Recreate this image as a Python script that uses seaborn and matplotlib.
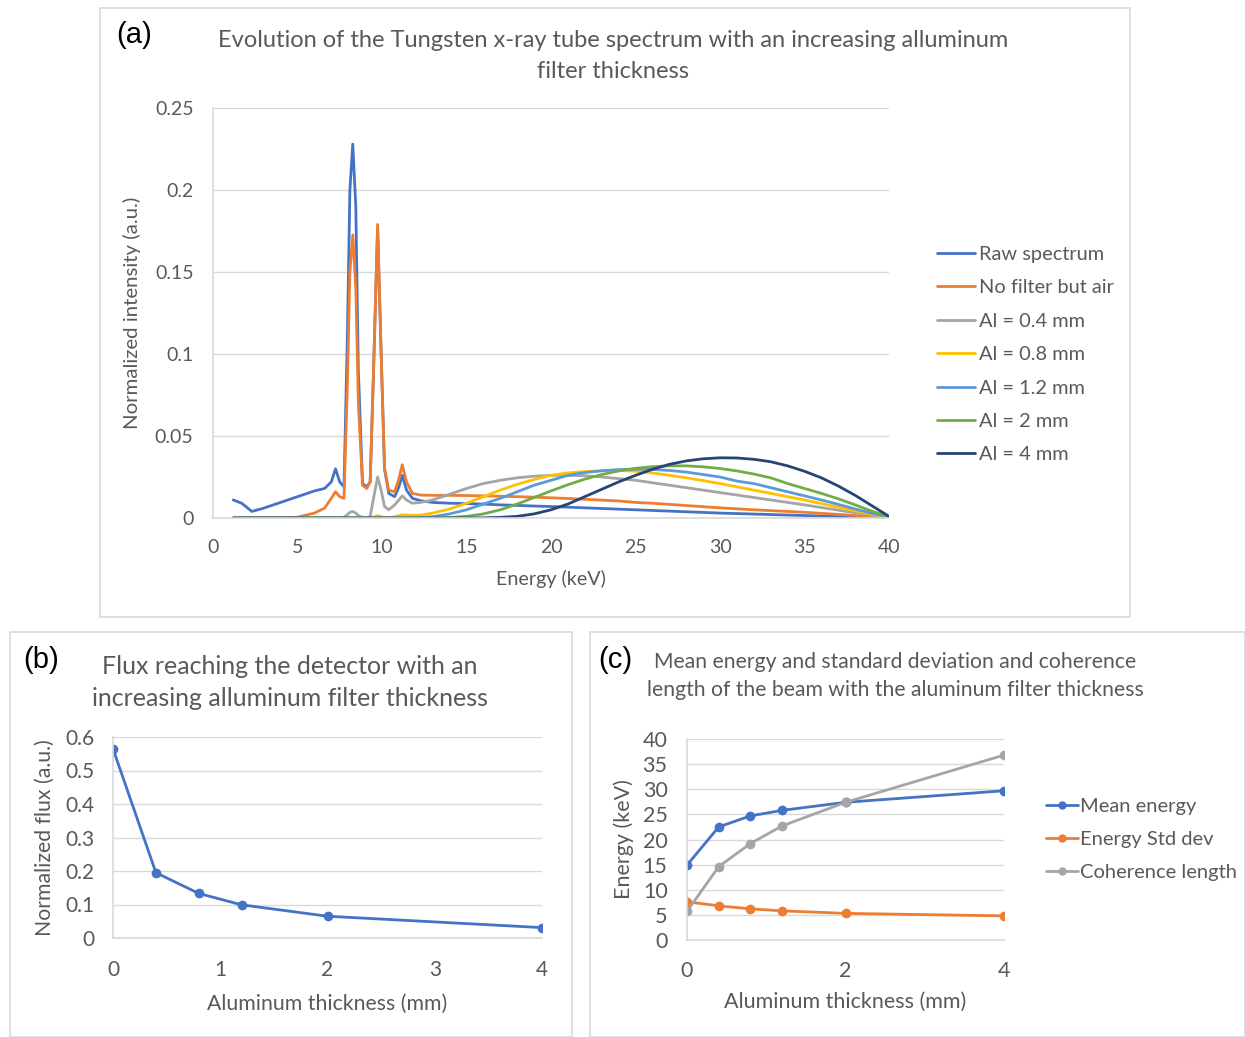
import matplotlib.pyplot as plt
import matplotlib.patches as patches
from matplotlib.lines import Line2D
from matplotlib.ticker import FuncFormatter
import pandas as pd
import seaborn as sns

# ---- data ----
energy = [1.2, 1.7, 2.3, 3, 4, 5, 6, 6.6, 7.0, 7.25,
          7.5, 7.75, 7.95, 8.1, 8.27, 8.45, 8.6, 8.85, 9.1, 9.3,
          9.5, 9.74, 9.95, 10.15, 10.4, 10.75, 11.0, 11.2, 11.45, 11.8,
          12.3, 13, 14, 15, 16, 17, 18, 19, 20, 21,
          22, 23, 24, 25, 26, 27, 28, 29, 30, 31,
          32, 33, 34, 35, 36, 37, 38, 39, 40]

raw = [0.011, 0.009, 0.004, 0.006, 0.0095, 0.013, 0.0165, 0.018, 0.022, 0.030,
       0.022, 0.019, 0.11, 0.20, 0.228, 0.19, 0.09, 0.021, 0.019, 0.022,
       0.09, 0.177, 0.10, 0.03, 0.015, 0.013, 0.019, 0.026, 0.017, 0.012,
       0.0105, 0.0095, 0.009, 0.0088, 0.0085, 0.008, 0.0077, 0.0073, 0.007, 0.0066,
       0.0062, 0.0058, 0.0054, 0.005, 0.0046, 0.0042, 0.0038, 0.0034, 0.003, 0.0027,
       0.0024, 0.0021, 0.0018, 0.0015, 0.0012, 0.0009, 0.0006, 0.0003, 0.0]

air = [0, 0, 0, 0, 0, 0.0005, 0.003, 0.006, 0.012, 0.016,
       0.013, 0.012, 0.08, 0.15, 0.1726, 0.14, 0.07, 0.02, 0.018, 0.022,
       0.09, 0.179, 0.10, 0.03, 0.017, 0.016, 0.024, 0.0325, 0.022, 0.015,
       0.014, 0.0138, 0.0138, 0.0137, 0.0135, 0.0133, 0.013, 0.0127, 0.0123, 0.0119,
       0.0114, 0.0109, 0.0104, 0.0095, 0.009, 0.0083, 0.0076, 0.0069, 0.0062, 0.0056,
       0.005, 0.0045, 0.004, 0.0035, 0.0028, 0.0022, 0.0015, 0.0008, 0.0]

al_04 = [0, 0, 0, 0, 0, 0, 0, 0, 0, 0,
         0, 0.0005, 0.002, 0.0035, 0.004, 0.003, 0.0015, 0.0003, 0.0002, 0.001,
         0.012, 0.025, 0.017, 0.007, 0.005, 0.008, 0.011, 0.0135, 0.011, 0.009,
         0.0095, 0.011, 0.0145, 0.018, 0.021, 0.023, 0.0245, 0.0255, 0.026, 0.026,
         0.0258, 0.025, 0.024, 0.023, 0.0215, 0.02, 0.0185, 0.017, 0.0155, 0.014,
         0.0125, 0.011, 0.0095, 0.008, 0.0064, 0.0048, 0.0032, 0.0016, 0.0008]

al_08 = [0, 0, 0, 0, 0, 0, 0, 0, 0, 0,
         0, 0, 0, 0, 0, 0, 0, 0, 0, 0,
         0.0005, 0.0015, 0.0008, 0.0002, 0.0002, 0.0008, 0.0015, 0.002, 0.0018, 0.0016,
         0.0018, 0.003, 0.0055, 0.009, 0.013, 0.017, 0.0205, 0.0235, 0.026, 0.0275,
         0.0283, 0.0288, 0.029, 0.0285, 0.0275, 0.026, 0.0245, 0.0228, 0.021, 0.019,
         0.017, 0.015, 0.013, 0.011, 0.0088, 0.0066, 0.0044, 0.0022, 0.0008]

al_12 = [0, 0, 0, 0, 0, 0, 0, 0, 0, 0,
         0, 0, 0, 0, 0, 0, 0, 0, 0, 0,
         0, 0, 0, 0, 0, 0, 0, 0, 0, 0,
         0.0002, 0.0008, 0.0025, 0.005, 0.0085, 0.012, 0.016, 0.02, 0.023, 0.026,
         0.0277, 0.0288, 0.0295, 0.0298, 0.0296, 0.029, 0.028, 0.0265, 0.025, 0.0225,
         0.021, 0.0185, 0.016, 0.0135, 0.011, 0.0083, 0.0055, 0.0028, 0.0008]

al_2 = [0, 0, 0, 0, 0, 0, 0, 0, 0, 0,
        0, 0, 0, 0, 0, 0, 0, 0, 0, 0,
        0, 0, 0, 0, 0, 0, 0, 0, 0, 0,
        0, 0, 0.0003, 0.001, 0.0025, 0.005, 0.0085, 0.0125, 0.0165, 0.0203,
        0.0237, 0.0265, 0.0287, 0.0303, 0.0313, 0.0318, 0.0318, 0.0312, 0.0302, 0.0287,
        0.0268, 0.0245, 0.021, 0.018, 0.015, 0.0117, 0.008, 0.0041, 0.0008]

al_4 = [0, 0, 0, 0, 0, 0, 0, 0, 0, 0,
        0, 0, 0, 0, 0, 0, 0, 0, 0, 0,
        0, 0, 0, 0, 0, 0, 0, 0, 0, 0,
        0, 0, 0, 0, 0.0001, 0.0004, 0.001, 0.0025, 0.005, 0.0085,
        0.013, 0.0175, 0.022, 0.026, 0.0297, 0.0327, 0.0348, 0.0361, 0.0367, 0.0366,
        0.0358, 0.0343, 0.0318, 0.0285, 0.0245, 0.0195, 0.0138, 0.0074, 0.001]

spectrum_names = ['Raw spectrum', 'No filter but air', 'Al = 0.4 mm', 'Al = 0.8 mm',
                  'Al = 1.2 mm', 'Al = 2 mm', 'Al = 4 mm']
spectrum_colors = ['#4472C4', '#ED7D31', '#A5A5A5', '#FFC000',
                   '#5B9BD5', '#70AD47', '#264478']

thickness = [0, 0.4, 0.8, 1.2, 2, 4]
flux = [0.565, 0.195, 0.133, 0.099, 0.065, 0.031]
mean_energy = [14.9, 22.5, 24.7, 25.8, 27.4, 29.7]
energy_std = [7.6, 6.8, 6.2, 5.8, 5.3, 4.8]
coherence = [5.7, 14.6, 19.2, 22.7, 27.4, 36.8]
stat_names = ['Mean energy', 'Energy Std dev', 'Coherence length']
stat_colors = ['#4472C4', '#ED7D31', '#A5A5A5']

# ---- style ----
sns.set_theme(style='white')
plt.rcParams['font.family'] = ['Lato', 'DejaVu Sans']
TXT = '#595959'
GRID = '#D9D9D9'

fig = plt.figure(figsize=(12.45, 10.37), dpi=100)

# panel frames
for (x0, y0, w, h) in [(100, 8, 1030, 609), (10, 632, 562, 405), (590, 632, 655, 405)]:
    fig.add_artist(patches.Rectangle((x0 / 1245, 1 - (y0 + h) / 1037), w / 1245, h / 1037,
                                     transform=fig.transFigure, fill=False,
                                     edgecolor=GRID, linewidth=1.2))


def excel_axes(ax, size):
    ax.grid(axis='y', color=GRID, linewidth=1)
    ax.grid(axis='x', visible=False)
    for s in ['top', 'right']:
        ax.spines[s].set_visible(False)
    for s in ['left', 'bottom']:
        ax.spines[s].set_color(GRID)
        ax.spines[s].set_linewidth(1.2)
    ax.tick_params(axis='both', length=0, labelsize=size, labelcolor=TXT, pad=8)
    ax.yaxis.set_major_formatter(FuncFormatter(lambda v, p: f'{v:g}'))
    ax.xaxis.set_major_formatter(FuncFormatter(lambda v, p: f'{v:g}'))


# ---- (a) spectrum ----
spec = pd.DataFrame({'Energy': energy})
for name, vals in zip(spectrum_names, [raw, air, al_04, al_08, al_12, al_2, al_4]):
    spec[name] = vals
spec_long = spec.melt(id_vars='Energy', var_name='Series', value_name='Intensity')

ax_a = fig.add_axes([213 / 1245, 1 - 518 / 1037, 676 / 1245, 410 / 1037])
sns.lineplot(data=spec_long, x='Energy', y='Intensity', hue='Series',
             hue_order=spectrum_names, palette=spectrum_colors, estimator=None,
             linewidth=2, ax=ax_a, legend=False)
ax_a.set_xlim(0, 40)
ax_a.set_ylim(0, 0.25)
ax_a.set_xticks(range(0, 41, 5))
ax_a.set_yticks([0, 0.05, 0.1, 0.15, 0.2, 0.25])
excel_axes(ax_a, 14)
ax_a.tick_params(axis='x', pad=15)
ax_a.tick_params(axis='y', pad=14)
ax_a.set_xlabel('Energy (keV)', fontsize=14.2, color=TXT, labelpad=10)
ax_a.set_ylabel('Normalized intensity (a.u.)', fontsize=14.7, color=TXT, labelpad=10)

h_a = [Line2D([], [], color=c, linewidth=2) for c in spectrum_colors]
ax_a.legend(h_a, spectrum_names, loc='upper left', bbox_to_anchor=(929 / 1245, 1 - 238 / 1037),
            bbox_transform=fig.transFigure, frameon=False, fontsize=14.4, labelcolor=TXT,
            handlelength=1.9, handletextpad=0.2, labelspacing=0.82, borderaxespad=0)

fig.text(116 / 1245, 1 - 35 / 1037, '(a)', fontsize=21, family='Liberation Sans',
         color='black', ha='left', va='center')
fig.text(613 / 1245, 1 - 40 / 1037,
         'Evolution of the Tungsten x-ray tube spectrum with an increasing alluminum',
         fontsize=17, color=TXT, ha='center', va='center')
fig.text(613 / 1245, 1 - 71 / 1037, 'filter thickness',
         fontsize=17, color=TXT, ha='center', va='center')

# ---- (b) flux ----
flux_df = pd.DataFrame({'Thickness': thickness, 'Flux': flux})
ax_b = fig.add_axes([113 / 1245, 1 - 938 / 1037, 429 / 1245, 201 / 1037])
sns.lineplot(data=flux_df, x='Thickness', y='Flux', color='#4472C4', linewidth=2,
             marker='o', markersize=7, markeredgewidth=0, ax=ax_b)
ax_b.set_xlim(0, 4)
ax_b.set_ylim(0, 0.6)
ax_b.set_xticks(range(0, 5))
ax_b.set_yticks([0, 0.1, 0.2, 0.3, 0.4, 0.5, 0.6])
excel_axes(ax_b, 15)
ax_b.tick_params(axis='x', pad=16)
ax_b.tick_params(axis='y', pad=13)
ax_b.set_xlabel('Aluminum thickness (mm)', fontsize=15.3, color=TXT, labelpad=10)
ax_b.set_ylabel('Normalized flux (a.u.)', fontsize=15.3, color=TXT, labelpad=8)

fig.text(23 / 1245, 1 - 660 / 1037, '(b)', fontsize=21, family='Liberation Sans',
         color='black', ha='left', va='center')
fig.text(290 / 1245, 1 - 666 / 1037, 'Flux reaching the detector with an',
         fontsize=18, color=TXT, ha='center', va='center')
fig.text(290 / 1245, 1 - 698 / 1037, 'increasing alluminum filter thickness',
         fontsize=18, color=TXT, ha='center', va='center')

# ---- (c) energy statistics ----
stats = pd.DataFrame({'Thickness': thickness, stat_names[0]: mean_energy,
                      stat_names[1]: energy_std, stat_names[2]: coherence})
stats_long = stats.melt(id_vars='Thickness', var_name='Quantity', value_name='Energy')
ax_c = fig.add_axes([687 / 1245, 1 - 940 / 1037, 317 / 1245, 201 / 1037])
sns.lineplot(data=stats_long, x='Thickness', y='Energy', hue='Quantity',
             hue_order=stat_names, palette=stat_colors, estimator=None, linewidth=2,
             marker='o', markersize=7, markeredgewidth=0, ax=ax_c, legend=False)
ax_c.set_xlim(0, 4)
ax_c.set_ylim(0, 40)
ax_c.set_xticks([0, 2, 4])
ax_c.set_yticks(range(0, 41, 5))
excel_axes(ax_c, 15.5)
ax_c.tick_params(axis='x', pad=15)
ax_c.tick_params(axis='y', pad=14)
ax_c.set_xlabel('Aluminum thickness (mm)', fontsize=15.5, color=TXT, labelpad=8)
ax_c.set_ylabel('Energy (keV)', fontsize=15.5, color=TXT, labelpad=6)

h_c = [Line2D([], [], color=c, linewidth=2, marker='o', markersize=6, markeredgewidth=0)
       for c in stat_colors]
ax_c.legend(h_c, stat_names, loc='upper left', bbox_to_anchor=(1038 / 1245, 1 - 790 / 1037),
            bbox_transform=fig.transFigure, frameon=False, fontsize=14.5, labelcolor=TXT,
            handlelength=1.6, handletextpad=0.08, labelspacing=0.78, borderaxespad=0)

fig.text(598 / 1245, 1 - 660 / 1037, '(c)', fontsize=21, family='Liberation Sans',
         color='black', ha='left', va='center')
fig.text(895 / 1245, 1 - 662 / 1037, 'Mean energy and standard deviation and coherence',
         fontsize=15.2, color=TXT, ha='center', va='center')
fig.text(895 / 1245, 1 - 690 / 1037, 'length of the beam with the aluminum filter thickness',
         fontsize=15.2, color=TXT, ha='center', va='center')

fig.savefig('out.png', dpi=100)
